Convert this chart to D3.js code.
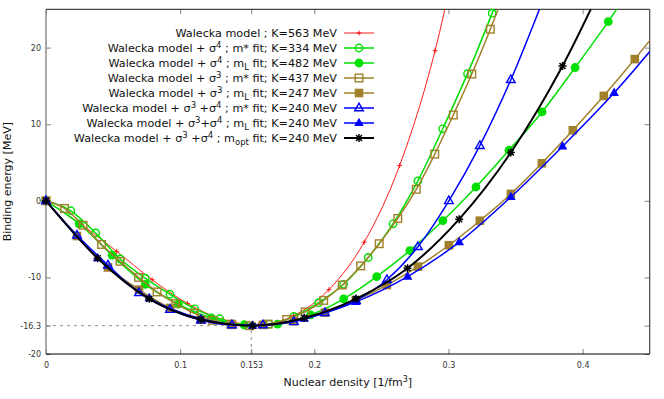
<!DOCTYPE html>
<html><head><meta charset="utf-8">
<script src="https://cdn.jsdelivr.net/npm/d3@7"></script>
<style>body{margin:0;background:#fff}svg{display:block}</style>
</head><body>
<svg id="c" width="664" height="399"></svg>
<script>
// ---- data ----
const xTicks = [0, 0.1, 0.153, 0.2, 0.3, 0.4];
const yTicks = [-20, -16.3, -10, 0, 10, 20];

const densRed = [0, 0.0264, 0.0527, 0.0791, 0.1054, 0.1318, 0.1582, 0.1845, 0.2109, 0.2372, 0.2636, 0.29, 0.3163];
const eRed    = [0, -3.1, -6.6, -10.3, -13.4, -15.5, -16.2, -15.0, -11.6, -5.4, 4.6, 19.6, 41];

const densGreenOpen = [0, 0.0185, 0.037, 0.0554, 0.0739, 0.0924, 0.1109, 0.1294, 0.1478, 0.1663, 0.1848, 0.2033, 0.2218, 0.2402, 0.2587, 0.2772, 0.2957, 0.3142, 0.3326, 0.3511];
const eGreenOpen    = [0, -1.3, -4.2, -7.6, -10.1, -12.2, -14.1, -15.4, -16.2, -16.1, -15.1, -13.3, -10.9, -7.4, -3.0, 2.6, 9.4, 16.6, 24.5, 33];

const densGreenFilled = [0, 0.0247, 0.0493, 0.074, 0.0986, 0.1233, 0.1479, 0.1726, 0.1972, 0.2219, 0.2465, 0.2712, 0.2958, 0.3205, 0.3451, 0.3698, 0.3944, 0.4191, 0.4437];
const eGreenFilled    = [0, -3.0, -7.1, -10.9, -13.5, -15.3, -16.2, -16.1, -14.9, -12.8, -9.9, -6.5, -2.6, 1.8, 6.6, 11.6, 17.4, 23.4, 29.8];

const densBrownOpen = [0, 0.0138, 0.0276, 0.0414, 0.0552, 0.069, 0.0828, 0.0966, 0.1104, 0.1242, 0.138, 0.1518, 0.1656, 0.1794, 0.1932, 0.207, 0.2208, 0.2346, 0.2484, 0.2622, 0.276, 0.2898, 0.3036, 0.3174, 0.3312, 0.345];
const eBrownOpen    = [0, -1.0, -3.2, -5.7, -7.9, -10.0, -11.9, -13.4, -14.7, -15.6, -16.1, -16.3, -16.1, -15.5, -14.5, -13.0, -11.0, -8.5, -5.6, -2.3, 1.5, 6.1, 11.2, 16.55, 22.4, 28.7];

const densBrownFilled = [0, 0.0231, 0.0462, 0.0693, 0.0924, 0.1155, 0.1386, 0.1617, 0.1848, 0.2079, 0.231, 0.2541, 0.2772, 0.3003, 0.3234, 0.3465, 0.3696, 0.3927, 0.4158, 0.4389, 0.462];
const eBrownFilled    = [0, -4.6, -8.7, -11.6, -14.0, -15.5, -16.2, -16.2, -15.7, -14.6, -13.0, -11.0, -8.6, -5.8, -2.6, 0.9, 4.9, 9.2, 13.7, 18.5, 23.6];

const densBlueOpen = [0, 0.0231, 0.0462, 0.0693, 0.0924, 0.1155, 0.1386, 0.1617, 0.1848, 0.2079, 0.231, 0.2541, 0.2772, 0.3003, 0.3234, 0.3465, 0.3696];
const eBlueOpen    = [0, -4.5, -8.4, -12.0, -14.2, -15.6, -16.2, -16.2, -15.8, -14.6, -13.0, -10.3, -6.0, 0.0, 7.2, 15.8, 25.8];

const densBlueFilled = [0, 0.0385, 0.077, 0.1155, 0.154, 0.1925, 0.231, 0.2695, 0.308, 0.3465, 0.385, 0.4235, 0.462];
const eBlueFilled    = [0, -7.5, -12.7, -15.4, -16.3, -15.4, -13.2, -9.9, -5.4, 0.5, 7.1, 14.1, 22.0];

const densBlack = [0, 0.0385, 0.077, 0.1155, 0.154, 0.1925, 0.231, 0.2695, 0.308, 0.3465, 0.385, 0.4235];
const eBlack    = [0, -7.5, -12.8, -15.5, -16.3, -15.3, -12.8, -8.8, -2.4, 6.3, 17.6, 31.5];

const legendLabels = [
  "Walecka model ; K=563 MeV",
  "Walecka model + σ^{4} ; m* fit; K=334 MeV",
  "Walecka model + σ^{4} ; m_{L} fit; K=482 MeV",
  "Walecka model + σ^{3} ; m* fit; K=437 MeV",
  "Walecka model + σ^{3} ; m_{L} fit; K=247 MeV",
  "Walecka model + σ^{3} +σ^{4} ; m* fit; K=240 MeV",
  "Walecka model + σ^{3}+σ^{4} ; m_{L} fit; K=240 MeV",
  "Walecka model + σ^{3} +σ^{4} ; m_{opt} fit; K=240 MeV"
];

const sat = {rho: 0.153, e: -16.3};

// ---- styles ----
const RED = "#ff0000", GREEN = "#00e000", BROWN = "#a0802a", BLUE = "#0000ff", BLACK = "#000000";
const series = [
  {d: densRed, e: eRed, color: RED, w: 0.9, m: "plus"},
  {d: densGreenOpen, e: eGreenOpen, color: GREEN, w: 1.5, m: "circleOpen"},
  {d: densGreenFilled, e: eGreenFilled, color: GREEN, w: 1.5, m: "circleFilled"},
  {d: densBrownOpen, e: eBrownOpen, color: BROWN, w: 1.5, m: "squareOpen"},
  {d: densBrownFilled, e: eBrownFilled, color: BROWN, w: 1.5, m: "squareFilled"},
  {d: densBlueOpen, e: eBlueOpen, color: BLUE, w: 1.5, m: "triOpen"},
  {d: densBlueFilled, e: eBlueFilled, color: BLUE, w: 1.5, m: "triFilled"},
  {d: densBlack, e: eBlack, color: BLACK, w: 2, m: "star"}
];
series.forEach((s, i) => s.label = legendLabels[i]);

const svg = d3.select("#c");
const L = 46, R = 649.7, T = 9.3, B = 354;
const x = d3.scaleLinear().domain([0, 0.45]).range([L, R]);
const y = d3.scaleLinear().domain([-20, 25]).range([B, T]);

svg.append("defs").append("clipPath").attr("id", "clip")
  .append("rect").attr("x", L).attr("y", T).attr("width", R - L).attr("height", B - T);

const FONT = "DejaVu Sans";

// dashed guides
svg.append("line").attr("x1", x(0)).attr("x2", x(sat.rho)).attr("y1", y(sat.e)).attr("y2", y(sat.e))
  .attr("stroke", "#8a8a8a").attr("stroke-dasharray", "3,4").attr("stroke-width", 1);
svg.append("line").attr("x1", x(sat.rho)).attr("x2", x(sat.rho)).attr("y1", y(-20)).attr("y2", y(sat.e))
  .attr("stroke", "#8a8a8a").attr("stroke-dasharray", "3,4").attr("stroke-width", 1);

// axes
const fmtX = d => d === 0 ? "0" : String(d);
const gx = svg.append("g").attr("transform", `translate(0,${B})`)
  .call(d3.axisBottom(x).tickValues(xTicks).tickSize(-5).tickPadding(8).tickFormat(fmtX));
const gy = svg.append("g").attr("transform", `translate(${L},0)`)
  .call(d3.axisLeft(y).tickValues(yTicks).tickSize(-5).tickPadding(5).tickFormat(d => String(d)));
const gt = svg.append("g").attr("transform", `translate(0,${T})`)
  .call(d3.axisTop(x).tickValues(xTicks).tickSize(-5).tickFormat(""));
const gr = svg.append("g").attr("transform", `translate(${R},0)`)
  .call(d3.axisRight(y).tickValues(yTicks).tickSize(-5).tickFormat(""));
[gx, gy, gt, gr].forEach(g => {
  g.select(".domain").remove();
  g.selectAll(".tick line").attr("stroke", "#808080");
  g.selectAll("text").attr("font-family", FONT).attr("font-size", 8).attr("fill", "#333");
});
// frame
svg.append("line").attr("x1", L).attr("x2", L).attr("y1", T).attr("y2", B).attr("stroke", "#8c8c8c").attr("stroke-width", 1.5);
svg.append("line").attr("x1", L).attr("x2", R).attr("y1", B).attr("y2", B).attr("stroke", "#000").attr("stroke-width", 1.2);
svg.append("line").attr("x1", L).attr("x2", R).attr("y1", T).attr("y2", T).attr("stroke", "#444").attr("stroke-width", 1.2);
svg.append("line").attr("x1", R).attr("x2", R).attr("y1", T).attr("y2", B).attr("stroke", "#444").attr("stroke-width", 1.2);

// axis titles
const xt = svg.append("text").attr("x", (L + R) / 2).attr("y", 386).attr("text-anchor", "middle")
  .attr("font-family", FONT).attr("font-size", 11).attr("fill", "#111");
xt.append("tspan").text("Nuclear density [1/fm");
xt.append("tspan").attr("dy", -4).attr("font-size", 8).text("3");
xt.append("tspan").attr("dy", 4).text("]");
svg.append("text").attr("transform", `translate(11,${(T + B) / 2}) rotate(-90)`).attr("text-anchor", "middle")
  .attr("font-family", FONT).attr("font-size", 11).attr("fill", "#111").text("Binding energy [MeV]");

// marker drawing
function drawMarker(g, type, cx, cy, color) {
  const t = g.append("g").attr("transform", `translate(${cx},${cy})`);
  switch (type) {
    case "plus":
      t.append("path").attr("d", "M-2.5,0H2.5M0,-2.5V2.5").attr("stroke", color).attr("stroke-width", 0.9).attr("fill", "none");
      break;
    case "circleOpen":
      t.append("circle").attr("r", 3.7).attr("fill", "none").attr("stroke", color).attr("stroke-width", 1.4);
      break;
    case "circleFilled":
      t.append("circle").attr("r", 4.4).attr("fill", color);
      break;
    case "squareOpen":
      t.append("rect").attr("x", -3.8).attr("y", -3.8).attr("width", 7.6).attr("height", 7.6)
        .attr("fill", "none").attr("stroke", color).attr("stroke-width", 1.4);
      break;
    case "squareFilled":
      t.append("rect").attr("x", -4.3).attr("y", -4.3).attr("width", 8.6).attr("height", 8.6).attr("fill", color);
      break;
    case "triOpen":
      t.append("path").attr("d", "M0,-4.8L4.3,2.8L-4.3,2.8Z").attr("fill", "none").attr("stroke", color).attr("stroke-width", 1.4);
      break;
    case "triFilled":
      t.append("path").attr("d", "M0,-5.3L4.8,3.1L-4.8,3.1Z").attr("fill", color);
      break;
    case "star":
      t.append("path").attr("d", "M-4,0H4M0,-4V4M-3,-3L3,3M-3,3L3,-3").attr("stroke", color).attr("stroke-width", 1.5).attr("fill", "none");
      break;
  }
}

const line = d3.line().x(p => x(p[0])).y(p => y(p[1])).curve(d3.curveMonotoneX);
const plot = svg.append("g");
series.forEach(s => {
  const pts = s.d.map((v, i) => [v, s.e[i]]);
  plot.append("path").attr("clip-path", "url(#clip)").attr("d", line(pts))
    .attr("fill", "none").attr("stroke", s.color).attr("stroke-width", s.w);
  const mg = plot.append("g");
  pts.filter(p => p[0] <= 0.45 && p[1] <= 25 && p[1] >= -20)
    .forEach(p => drawMarker(mg, s.m, x(p[0]), y(p[1]), s.color));
});

// legend
function richText(el, str) {
  const re = /([\^_])\{([^}]*)\}/g;
  let last = 0, m, shift = 0;
  while ((m = re.exec(str)) !== null) {
    if (m.index > last) el.append("tspan").attr("dy", -shift).text(str.slice(last, m.index)), shift = 0;
    const up = m[1] === "^";
    const d = up ? -4 : 3;
    el.append("tspan").attr("dy", d - shift).attr("font-size", 8.5).text(m[2]);
    shift = d;
    last = re.lastIndex;
  }
  if (last < str.length) el.append("tspan").attr("dy", -shift).text(str.slice(last));
}
const legY0 = 33, legDy = 15, legTextX = 337, legX1 = 344, legX2 = 374;
series.forEach((s, i) => {
  const yy = legY0 + i * legDy;
  const t = svg.append("text").attr("x", legTextX).attr("y", yy + 4).attr("text-anchor", "end")
    .attr("font-family", FONT).attr("font-size", 11.2).attr("fill", "#111");
  richText(t, s.label);
  svg.append("line").attr("x1", legX1).attr("x2", legX2).attr("y1", yy).attr("y2", yy)
    .attr("stroke", s.color).attr("stroke-width", s.w);
  drawMarker(svg, s.m, (legX1 + legX2) / 2, yy, s.color);
});
</script>
</body></html>
